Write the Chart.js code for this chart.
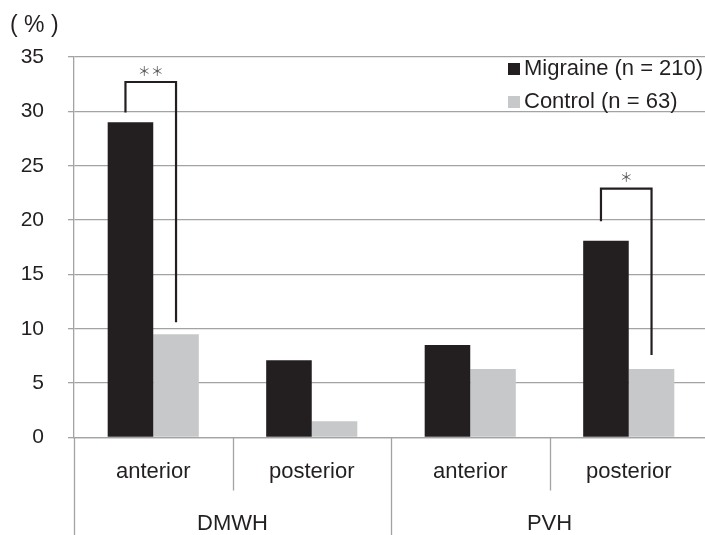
<!DOCTYPE html>
<html>
<head>
<meta charset="utf-8">
<script src="https://cdn.jsdelivr.net/npm/chart.js@4.4.1/dist/chart.umd.min.js"></script>
<style>
html,body{margin:0;padding:0;background:#fff;overflow:hidden;}
#wrap{position:absolute;left:0;top:0;width:708px;height:535px;}
</style>
</head>
<body>
<div id="wrap"><canvas id="c" width="708" height="535"></canvas></div>
<script>
// ---- data ----
const categories = ['anterior', 'posterior', 'anterior', 'posterior'];
const groups = ['DMWH', 'PVH'];
const seriesNames = ['Migraine (n = 210)', 'Control (n = 63)'];
const migraine = [29.0, 7.1, 8.5, 18.1];
const control = [9.5, 1.5, 6.3, 6.3];
const yMin = 0, yMax = 35, yStep = 5;
const yUnit = '( % )';
// significance brackets (values in %)
const bracketCategory = [0, 3];
const bracketLeftEnd = [29.9, 19.9];
const bracketTop = [32.7, 22.9];
const bracketRightEnd = [10.6, 7.6];
const bracketLabels = ['＊＊', '＊'];

const FONT = '"Liberation Sans", Arial, Helvetica, sans-serif';
const TEXT = '#231f20';
const GRID = '#a3a3a3';

const annot = {
  id: 'annot',
  afterDraw(chart) {
    const ctx = chart.ctx, xs = chart.scales.x, ys = chart.scales.y, a = chart.chartArea;
    ctx.save();
    const half = (xs.getPixelForValue(1) - xs.getPixelForValue(0)) / 2;
    // dividers
    ctx.strokeStyle = GRID; ctx.lineWidth = 1.3;
    for (let i = 0; i <= categories.length; i++) {
      const px = Math.round(xs.getPixelForValue(i) - half) + 0.5;
      const full = i % 2 === 0;
      ctx.beginPath(); ctx.moveTo(px, a.bottom); ctx.lineTo(px, full ? chart.height : a.bottom + 53); ctx.stroke();
    }
    // x labels
    ctx.font = '22px ' + FONT; ctx.fillStyle = TEXT; ctx.textAlign = 'center'; ctx.textBaseline = 'middle';
    categories.forEach((c, i) => ctx.fillText(c, xs.getPixelForValue(i), a.bottom + 34));
    groups.forEach((g, gi) => {
      const cx = (xs.getPixelForValue(gi * 2) + xs.getPixelForValue(gi * 2 + 1)) / 2;
      ctx.fillText(g, cx, a.bottom + 86);
    });
    // unit label
    ctx.font = '23px ' + FONT; ctx.textAlign = 'left';
    ctx.fillText(yUnit, 10, 26);
    // brackets
    const m0 = chart.getDatasetMeta(0), m1 = chart.getDatasetMeta(1);
    ctx.strokeStyle = TEXT; ctx.lineWidth = 2.2; ctx.lineJoin = 'miter'; ctx.lineCap = 'butt';
    bracketCategory.forEach((ci, k) => {
      const xl = m0.data[ci].x - 5, xr = m1.data[ci].x;
      const yt = ys.getPixelForValue(bracketTop[k]);
      ctx.beginPath();
      ctx.moveTo(xl, ys.getPixelForValue(bracketLeftEnd[k]));
      ctx.lineTo(xl, yt); ctx.lineTo(xr, yt);
      ctx.lineTo(xr, ys.getPixelForValue(bracketRightEnd[k]));
      ctx.stroke();
      ctx.font = '13px "Noto Sans CJK JP", sans-serif'; ctx.fillStyle = '#555';
      ctx.textAlign = 'center'; ctx.textBaseline = 'middle';
      ctx.fillText(bracketLabels[k], (xl + xr) / 2, yt - 11);
    });
    // legend
    ctx.font = '22px ' + FONT; ctx.textAlign = 'left'; ctx.textBaseline = 'middle';
    chart.data.datasets.forEach((ds, i) => {
      const cy = 69 + i * 33;
      ctx.fillStyle = ds.backgroundColor;
      ctx.fillRect(508, cy - 6, 12, 12);
      ctx.fillStyle = TEXT;
      ctx.fillText(ds.label, 524, cy);
    });
    ctx.restore();
  }
};

new Chart(document.getElementById('c'), {
  type: 'bar',
  data: {
    labels: categories,
    datasets: [
      { label: seriesNames[0], data: migraine, backgroundColor: '#231f20', borderWidth: 0 },
      { label: seriesNames[1], data: control, backgroundColor: '#c7c8ca', borderWidth: 0 }
    ]
  },
  options: {
    responsive: false,
    animation: false,
    devicePixelRatio: 1,
    layout: { padding: { top: 57, left: 0, right: 0, bottom: 0 } },
    plugins: { legend: { display: false }, tooltip: { enabled: false } },
    datasets: { bar: { categoryPercentage: 0.575, barPercentage: 1.0 } },
    scales: {
      x: {
        grid: { display: false },
        border: { display: true, color: GRID, width: 1.3 },
        ticks: { display: false },
        afterFit(s) { s.height = 97.5; }
      },
      y: {
        min: yMin, max: yMax,
        ticks: { stepSize: yStep, color: TEXT, font: { family: FONT, size: 21 }, padding: 24 },
        grid: { color: GRID, lineWidth: 1.3, tickLength: 6, drawTicks: true },
        border: { display: true, color: GRID, width: 1.3 },
        afterFit(s) { s.width = 74; }
      }
    }
  },
  plugins: [annot]
});
</script>
</body>
</html>
